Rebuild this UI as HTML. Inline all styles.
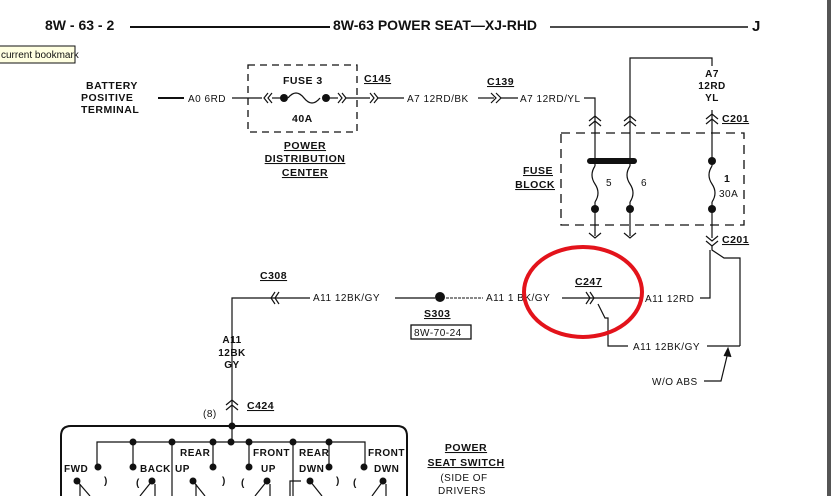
<!DOCTYPE html>
<html><head><meta charset="utf-8"><style>
html,body{margin:0;padding:0;background:#fff;}
svg{display:block;}
text{font-family:"Liberation Sans",sans-serif;font-weight:bold;fill:#111;}
.s{font-size:10.5px;letter-spacing:0.5px;}
.n{font-size:10px;font-weight:normal;letter-spacing:0.5px;}
</style></head><body>
<svg width="831" height="496" viewBox="0 0 831 496" xmlns="http://www.w3.org/2000/svg">
<rect x="0" y="0" width="831" height="496" fill="#fff"/>
<rect x="827" y="0" width="4" height="496" fill="#555"/>
<text x="45" y="30" font-size="14">8W - 63 - 2</text>
<line x1="130" y1="27" x2="330" y2="27" stroke="#111" stroke-width="2"/>
<text x="333" y="30" font-size="14">8W-63 POWER SEAT—XJ-RHD</text>
<line x1="550" y1="27" x2="748" y2="27" stroke="#111" stroke-width="1.5"/>
<text x="752" y="31" font-size="15">J</text>
<rect x="-1" y="46" width="76" height="17" fill="#ffffe1" stroke="#111" stroke-width="1"/>
<text x="1" y="58" font-size="10" style="font-weight:normal">current bookmark</text>
<g class="s"><text x="86" y="89">BATTERY</text><text x="81" y="101">POSITIVE</text><text x="81" y="113">TERMINAL</text></g>
<line x1="158" y1="98" x2="184" y2="98" stroke="#111" stroke-width="2"/>
<text class="n" x="188" y="102">A0 6RD</text>
<line x1="232" y1="98" x2="262" y2="98" stroke="#111" stroke-width="1.2"/>
<rect x="248" y="65" width="109" height="67" fill="none" stroke="#111" stroke-width="1.3" stroke-dasharray="7,5"/>
<text class="s" x="283" y="84">FUSE 3</text>
<text class="s" x="292" y="122">40A</text>
<path d="M268 93 L264 98 L268 103 M272 93 L268 98 L272 103" fill="none" stroke="#111" stroke-width="1.2"/>
<line x1="272" y1="98" x2="284" y2="98" stroke="#111" stroke-width="1.2"/>
<circle cx="284" cy="98" r="4" fill="#111"/>
<path d="M288 98 Q296 88 304 98 Q312 108 320 98" fill="none" stroke="#111" stroke-width="1.3"/>
<circle cx="326" cy="98" r="4" fill="#111"/>
<line x1="326" y1="98" x2="338" y2="98" stroke="#111" stroke-width="1.2"/>
<path d="M338 93 L342 98 L338 103 M342 93 L346 98 L342 103" fill="none" stroke="#111" stroke-width="1.2"/>
<line x1="346" y1="98" x2="370" y2="98" stroke="#111" stroke-width="1.2"/>
<path d="M370 93 L374 98 L370 103 M374 93 L378 98 L374 103" fill="none" stroke="#111" stroke-width="1.2"/>
<line x1="378" y1="98" x2="404" y2="98" stroke="#111" stroke-width="1.2"/>
<text class="s" x="364" y="82" text-decoration="underline">C145</text>
<g class="s" text-anchor="middle"><text x="305" y="149" text-decoration="underline">POWER</text><text x="305" y="162" text-decoration="underline">DISTRIBUTION</text><text x="305" y="176" text-decoration="underline">CENTER</text></g>
<text class="n" x="407" y="102">A7 12RD/BK</text>
<line x1="478" y1="98" x2="494" y2="98" stroke="#111" stroke-width="1.2"/>
<path d="M491 93 L496 98 L491 103 M496 93 L501 98 L496 103" fill="none" stroke="#111" stroke-width="1.2"/>
<line x1="501" y1="98" x2="518" y2="98" stroke="#111" stroke-width="1.2"/>
<text class="s" x="487" y="85" text-decoration="underline">C139</text>
<text class="n" x="520" y="102">A7 12RD/YL</text>
<polyline points="584,98 595,98 595,236" fill="none" stroke="#111" stroke-width="1.2"/>
<polyline points="630,236 630,58 712,58 712,66" fill="none" stroke="#111" stroke-width="1.2"/>
<g class="n" text-anchor="middle"><text x="712" y="77">A7</text><text x="712" y="89">12RD</text><text x="712" y="101">YL</text></g>
<line x1="712" y1="110" x2="712" y2="238" stroke="#111" stroke-width="1.2"/>
<path d="M589 121 L595 116 L601 121 M589 126 L595 121 L601 126" fill="none" stroke="#111" stroke-width="1.2"/>
<path d="M624 121 L630 116 L636 121 M624 126 L630 121 L636 126" fill="none" stroke="#111" stroke-width="1.2"/>
<path d="M706 119 L712 114 L718 119 M706 124 L712 119 L718 124" fill="none" stroke="#111" stroke-width="1.2"/>
<text class="s" x="722" y="122" text-decoration="underline">C201</text>
<rect x="561" y="133" width="183" height="92" fill="none" stroke="#111" stroke-width="1.3" stroke-dasharray="9,6"/>
<g class="s" text-anchor="end"><text x="553" y="174" text-decoration="underline">FUSE</text><text x="555" y="188" text-decoration="underline">BLOCK</text></g>
<line x1="590" y1="161" x2="634" y2="161" stroke="#111" stroke-width="6" stroke-linecap="round"/>
<rect x="590" y="166" width="10" height="36" fill="#fff"/>
<rect x="625" y="166" width="10" height="36" fill="#fff"/>
<rect x="707" y="166" width="10" height="36" fill="#fff"/>
<path d="M595 166 Q589 175 595 184 Q601 193 595 202" fill="none" stroke="#111" stroke-width="1.2"/>
<path d="M630 166 Q624 175 630 184 Q636 193 630 202" fill="none" stroke="#111" stroke-width="1.2"/>
<path d="M712 166 Q706 175 712 184 Q718 193 712 202" fill="none" stroke="#111" stroke-width="1.2"/>
<circle cx="712" cy="161" r="4" fill="#111"/>
<circle cx="595" cy="209" r="4" fill="#111"/><circle cx="630" cy="209" r="4" fill="#111"/><circle cx="712" cy="209" r="4" fill="#111"/>
<text class="n" x="606" y="186">5</text><text class="n" x="641" y="186">6</text>
<text class="s" x="724" y="182">1</text><text class="n" x="719" y="197">30A</text>
<path d="M589 233 L595 238 L601 233" fill="none" stroke="#111" stroke-width="1.2"/>
<path d="M624 233 L630 238 L636 233" fill="none" stroke="#111" stroke-width="1.2"/>
<path d="M706 236 L712 241 L718 236 M706 241 L712 246 L718 241" fill="none" stroke="#111" stroke-width="1.2"/>
<text class="s" x="722" y="243" text-decoration="underline">C201</text>
<polyline points="712,246 712,250 724,258 740,258 740,346" fill="none" stroke="#111" stroke-width="1.2"/>
<polyline points="710,250 710,298 700,298" fill="none" stroke="#111" stroke-width="1.2"/>
<text class="n" x="645" y="302">A11 12RD</text>
<line x1="562" y1="298" x2="640" y2="298" stroke="#111" stroke-width="1.2"/>
<path d="M586 292 L590 298 L586 304 M590 292 L594 298 L590 304" fill="none" stroke="#111" stroke-width="1.2"/>
<polyline points="598,304 605,318 608,318 608,346 628,346" fill="none" stroke="#111" stroke-width="1.2"/>
<text class="n" x="633" y="350">A11 12BK/GY</text>
<line x1="707" y1="346" x2="740" y2="346" stroke="#111" stroke-width="1.2"/>
<polyline points="704,381 721,381 728,352" fill="none" stroke="#111" stroke-width="1.2"/>
<path d="M724 356 L728 348 L731 357" fill="#111" stroke="#111"/>
<text class="n" x="652" y="385">W/O ABS</text>
<text class="s" x="575" y="285" text-decoration="underline">C247</text>
<text class="n" x="486" y="301">A11 1 BK/GY</text>
<circle cx="440" cy="297" r="5" fill="#111"/>
<line x1="446" y1="298" x2="483" y2="298" stroke="#111" stroke-width="1" stroke-dasharray="3,1"/>
<line x1="395" y1="298" x2="435" y2="298" stroke="#111" stroke-width="1.2"/>
<text class="n" x="313" y="301">A11 12BK/GY</text>
<text class="s" x="424" y="317" text-decoration="underline">S303</text>
<rect x="411" y="325" width="60" height="14" fill="none" stroke="#111" stroke-width="1.3"/>
<text class="n" x="414" y="336">8W-70-24</text>
<polyline points="310,298 232,298 232,426" fill="none" stroke="#111" stroke-width="1.2"/>
<path d="M275 292 L271 298 L275 304 M279 292 L275 298 L279 304" fill="none" stroke="#111" stroke-width="1.2"/>
<text class="s" x="260" y="279" text-decoration="underline">C308</text>
<g class="n" text-anchor="middle"><text x="232" y="343">A11</text><text x="232" y="356">12BK</text><text x="232" y="368">GY</text></g>
<path d="M226 405 L232 400 L238 405 M226 410 L232 405 L238 410" fill="none" stroke="#111" stroke-width="1.2"/>
<text class="s" x="247" y="409" text-decoration="underline">C424</text>
<text class="n" x="203" y="417">(8)</text>
<path d="M61 496 L61 436 Q61 426 71 426 L397 426 Q407 426 407 436 L407 496" fill="none" stroke="#111" stroke-width="2"/>
<line x1="232" y1="426" x2="232" y2="442" stroke="#111" stroke-width="1.2"/>
<circle cx="232" cy="426" r="3.5" fill="#111"/>
<polyline points="97,467 97,442 365,442 365,467" fill="none" stroke="#111" stroke-width="1.2"/>
<g fill="#111"><circle cx="133" cy="442" r="3.5"/><circle cx="172" cy="442" r="3.5"/><circle cx="213" cy="442" r="3.5"/><circle cx="231" cy="442" r="3.5"/><circle cx="249" cy="442" r="3.5"/><circle cx="293" cy="442" r="3.5"/><circle cx="329" cy="442" r="3.5"/>
<circle cx="98" cy="467" r="3.5"/><circle cx="133" cy="467" r="3.5"/><circle cx="213" cy="467" r="3.5"/><circle cx="249" cy="467" r="3.5"/><circle cx="329" cy="467" r="3.5"/><circle cx="364" cy="467" r="3.5"/>
<circle cx="77" cy="481" r="3.5"/><circle cx="152" cy="481" r="3.5"/><circle cx="193" cy="481" r="3.5"/><circle cx="267" cy="481" r="3.5"/><circle cx="310" cy="481" r="3.5"/><circle cx="383" cy="481" r="3.5"/></g>
<g stroke="#111" stroke-width="1.2" fill="none">
<line x1="133" y1="442" x2="133" y2="467"/><line x1="213" y1="442" x2="213" y2="467"/><line x1="249" y1="442" x2="249" y2="467"/><line x1="329" y1="442" x2="329" y2="467"/>
<line x1="172" y1="442" x2="172" y2="496"/><line x1="293" y1="442" x2="293" y2="496"/>
<line x1="77" y1="481" x2="90" y2="496"/><line x1="80" y1="484" x2="80" y2="496"/>
<line x1="152" y1="481" x2="140" y2="496"/><line x1="155" y1="484" x2="155" y2="496"/>
<line x1="193" y1="481" x2="205" y2="496"/><line x1="196" y1="484" x2="196" y2="496"/>
<line x1="267" y1="481" x2="255" y2="496"/><line x1="270" y1="484" x2="270" y2="496"/>
<line x1="310" y1="481" x2="322" y2="496"/><polyline points="301,481 290,481 290,496"/>
<line x1="383" y1="481" x2="372" y2="496"/><line x1="386" y1="484" x2="386" y2="496"/>
</g>
<g class="n" font-size="10"><text x="180" y="456">REAR</text><text x="253" y="456">FRONT</text><text x="299" y="456">REAR</text><text x="368" y="456">FRONT</text>
<text x="64" y="472">FWD</text><text x="140" y="472">BACK</text><text x="175" y="472">UP</text><text x="261" y="472">UP</text><text x="299" y="472">DWN</text><text x="374" y="472">DWN</text>
<text x="104" y="484">)</text><text x="136" y="486">(</text><text x="222" y="484">)</text><text x="241" y="486">(</text><text x="336" y="484">)</text><text x="353" y="486">(</text></g>
<g class="s" text-anchor="middle"><text x="466" y="451" text-decoration="underline">POWER</text><text x="466" y="466" text-decoration="underline">SEAT SWITCH</text><text x="464" y="481" class="n">(SIDE OF</text><text x="462" y="494" class="n">DRIVERS</text></g>
<ellipse cx="583" cy="292" rx="59" ry="45" fill="none" stroke="#e3131b" stroke-width="4"/>
</svg>
</body></html>
